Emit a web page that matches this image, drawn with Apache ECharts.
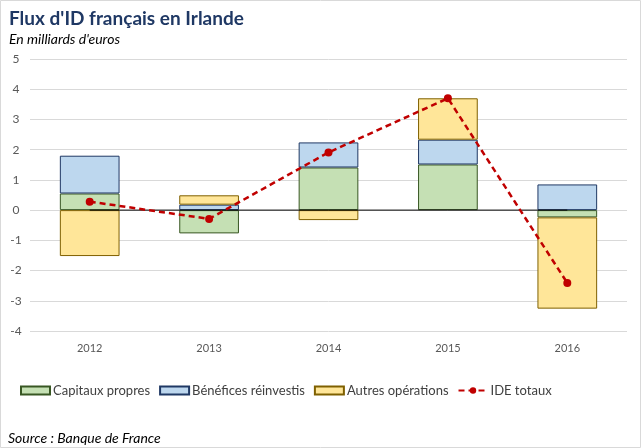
<!DOCTYPE html>
<html><head><meta charset="utf-8">
<script src="https://cdn.jsdelivr.net/npm/echarts@6/dist/echarts.min.js"></script>
<style>html,body{margin:0;padding:0;background:#fff}#c{width:641px;height:448px}</style>
</head><body><div id="c"></div>
<script>
const categories = ['2012','2013','2014','2015','2016'];
const capitauxPropres = [0.55, -0.77, 1.41, 1.51, -0.24];
const beneficesReinvestis = [1.25, 0.18, 0.83, 0.82, 0.85];
const autresOperations = [-1.52, 0.31, -0.33, 1.37, -3.02];
const ideTotaux = [0.28, -0.29, 1.91, 3.70, -2.41];
const zeroLine = [0, 0, 0, 0, 0];
const yTicks = [-4, 5, 1];

const chart = echarts.init(document.getElementById('c'), null, {renderer:'canvas'});
const font = 'Lato, Open Sans, sans-serif';
chart.setOption({
  animation:false,
  graphic:[{type:'rect',shape:{x:0.5,y:0.5,width:640,height:447},style:{fill:null,stroke:'#d9d9d9',lineWidth:1},silent:true}],
  title:[
    {text:"Flux d'ID français en Irlande",left:4,top:4,textStyle:{fontFamily:font,fontWeight:'bold',fontSize:19,color:'#1F3864'}},
    {text:"En milliards d'euros",left:4,top:27,textStyle:{fontFamily:font,fontStyle:'italic',fontWeight:'normal',fontSize:14,color:'#000'}},
    {text:"Source : Banque de France",left:3,top:426,textStyle:{fontFamily:font,fontStyle:'italic',fontWeight:'normal',fontSize:14,color:'#000'}}
  ],
  grid:{left:30,right:14,top:59,bottom:117},
  legend:{left:15,top:379,itemWidth:29,itemHeight:8,itemGap:9,
    textStyle:{fontFamily:font,fontSize:13,color:'#404040',padding:[0,0,0,-2]},
    data:[{name:'Capitaux propres',icon:'rect'},{name:'Bénéfices réinvestis',icon:'rect'},{name:'Autres opérations',icon:'rect'},{name:'IDE totaux'}]},
  xAxis:{type:'category',data:categories,axisLine:{show:false},axisTick:{show:false},
    axisLabel:{fontFamily:font,fontSize:11,color:'#595959',margin:12}},
  yAxis:{type:'value',min:yTicks[0],max:yTicks[1],interval:yTicks[2],
    axisLine:{show:false},axisTick:{show:false},
    axisLabel:{fontFamily:font,fontSize:12,color:'#595959',margin:14,align:'center'},
    splitLine:{lineStyle:{color:'#d9d9d9',width:1}}},
  series:[
    {name:'Capitaux propres',type:'bar',stack:'a',barWidth:'50%',data:capitauxPropres,
      itemStyle:{color:'#C5E0B4',borderColor:'#385723',borderWidth:1}},
    {name:'Bénéfices réinvestis',type:'bar',stack:'a',data:beneficesReinvestis,
      itemStyle:{color:'#BDD7EE',borderColor:'#1F3864',borderWidth:1}},
    {name:'Autres opérations',type:'bar',stack:'a',data:autresOperations,
      itemStyle:{color:'#FFE699',borderColor:'#7F6000',borderWidth:1}},
    {name:'zero',type:'line',data:zeroLine,symbol:'none',silent:true,
      lineStyle:{color:'#000',width:1},z:3},
    {name:'IDE totaux',type:'line',data:ideTotaux,symbol:'circle',symbolSize:8,
      lineStyle:{color:'#C00000',width:2.5,type:[6,4]},itemStyle:{color:'#C00000'},z:5}
  ]
});
</script></body></html>
